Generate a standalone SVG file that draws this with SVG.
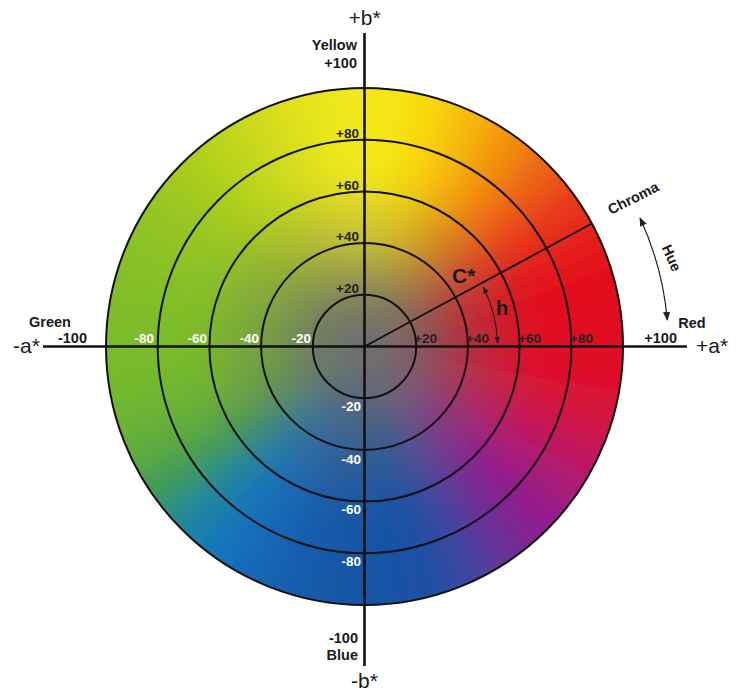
<svg xmlns="http://www.w3.org/2000/svg" width="744" height="700" viewBox="0 0 744 700">
<defs>
<style>
.ring{fill:none;stroke:#111;stroke-width:2}
.axis{stroke:#111;stroke-width:2.6;fill:none}
.lbl{font-family:"Liberation Sans",Arial,sans-serif;font-weight:bold;font-size:13.5px}
.dk{fill:#222}
.wt{fill:#fff}
.name{font-family:"Liberation Sans",Arial,sans-serif;font-weight:bold;font-size:14.5px;fill:#1a1a1a}
.ax{font-family:"Liberation Sans",Arial,sans-serif;font-size:21px;fill:#1a1a1a}
.big{font-family:"Liberation Sans",Arial,sans-serif;font-weight:bold;fill:#1a1a1a}
.thin{fill:none;stroke:#222;stroke-width:1.2}
.wedges path{shape-rendering:crispEdges}
</style>
<clipPath id="disc"><circle cx="364.5" cy="346.5" r="258.5"/></clipPath>
<filter id="soft" x="-20%" y="-20%" width="140%" height="140%"><feGaussianBlur stdDeviation="15"/></filter>
<radialGradient id="gray" cx="364.5" cy="346.5" r="258.5" gradientUnits="userSpaceOnUse">
<stop offset="0" stop-color="#6c6e6e" stop-opacity="1"/>
<stop offset="0.2" stop-color="#6c6e6e" stop-opacity="0.78"/>
<stop offset="0.4" stop-color="#6c6e6e" stop-opacity="0.35"/>
<stop offset="0.6" stop-color="#6c6e6e" stop-opacity="0.08"/>
<stop offset="0.72" stop-color="#6c6e6e" stop-opacity="0"/>
</radialGradient>
<marker id="ah" viewBox="0 0 10 10" refX="9" refY="5" markerWidth="7" markerHeight="7" markerUnits="userSpaceOnUse" orient="auto-start-reverse"><path d="M0 1 L10 5 L0 9 Z" fill="#222"/></marker>
<marker id="ah2" viewBox="0 0 10 10" refX="9" refY="5" markerWidth="9" markerHeight="9" markerUnits="userSpaceOnUse" orient="auto-start-reverse"><path d="M0 1 L10 5 L0 9 Z" fill="#222"/></marker>
</defs>
<rect width="744" height="700" fill="#fff"/>

<g id="wheel" clip-path="url(#disc)">
<g class="wedges" filter="url(#soft)">
<path d="M364.5 346.5L664.5 346.5L659.9 294.4Z" fill="#e20a20"/>
<path d="M364.5 346.5L659.9 294.4L646.4 243.9Z" fill="#e20e1e"/>
<path d="M364.5 346.5L646.4 243.9L624.3 196.5Z" fill="#e41a1c"/>
<path d="M364.5 346.5L624.3 196.5L594.3 153.7Z" fill="#e8381a"/>
<path d="M364.5 346.5L594.3 153.7L557.3 116.7Z" fill="#ec6414"/>
<path d="M364.5 346.5L557.3 116.7L514.5 86.7Z" fill="#f29010"/>
<path d="M364.5 346.5L514.5 86.7L467.1 64.6Z" fill="#f5b80e"/>
<path d="M364.5 346.5L467.1 64.6L416.6 51.1Z" fill="#f8d810"/>
<path d="M364.5 346.5L416.6 51.1L364.5 46.5Z" fill="#f7e614"/>
<path d="M364.5 346.5L364.5 46.5L312.4 51.1Z" fill="#efe81c"/>
<path d="M364.5 346.5L312.4 51.1L261.9 64.6Z" fill="#e2e21e"/>
<path d="M364.5 346.5L261.9 64.6L214.5 86.7Z" fill="#cfdb1c"/>
<path d="M364.5 346.5L214.5 86.7L171.7 116.7Z" fill="#bcd41c"/>
<path d="M364.5 346.5L171.7 116.7L134.7 153.7Z" fill="#a9cc1e"/>
<path d="M364.5 346.5L134.7 153.7L104.7 196.5Z" fill="#98c622"/>
<path d="M364.5 346.5L104.7 196.5L82.6 243.9Z" fill="#8cc226"/>
<path d="M364.5 346.5L82.6 243.9L69.1 294.4Z" fill="#84bf28"/>
<path d="M364.5 346.5L69.1 294.4L64.5 346.5Z" fill="#7dbc2a"/>
<path d="M364.5 346.5L64.5 346.5L69.1 398.6Z" fill="#78ba2c"/>
<path d="M364.5 346.5L69.1 398.6L82.6 449.1Z" fill="#70b532"/>
<path d="M364.5 346.5L82.6 449.1L104.7 496.5Z" fill="#5fab3c"/>
<path d="M364.5 346.5L104.7 496.5L134.7 539.3Z" fill="#3e9a58"/>
<path d="M364.5 346.5L134.7 539.3L171.7 576.3Z" fill="#1e85a0"/>
<path d="M364.5 346.5L171.7 576.3L214.5 606.3Z" fill="#1473bc"/>
<path d="M364.5 346.5L214.5 606.3L261.9 628.4Z" fill="#1266b4"/>
<path d="M364.5 346.5L261.9 628.4L312.4 641.9Z" fill="#125cac"/>
<path d="M364.5 346.5L312.4 641.9L364.5 646.5Z" fill="#1356a6"/>
<path d="M364.5 346.5L364.5 646.5L416.6 641.9Z" fill="#1454a6"/>
<path d="M364.5 346.5L416.6 641.9L467.1 628.4Z" fill="#1d50a4"/>
<path d="M364.5 346.5L467.1 628.4L514.5 606.3Z" fill="#3a46a0"/>
<path d="M364.5 346.5L514.5 606.3L557.3 576.3Z" fill="#6a2e98"/>
<path d="M364.5 346.5L557.3 576.3L594.3 539.3Z" fill="#8e1e90"/>
<path d="M364.5 346.5L594.3 539.3L624.3 496.5Z" fill="#a81a78"/>
<path d="M364.5 346.5L624.3 496.5L646.4 449.1Z" fill="#c41858"/>
<path d="M364.5 346.5L646.4 449.1L659.9 398.6Z" fill="#d6143a"/>
<path d="M364.5 346.5L659.9 398.6L664.5 346.5Z" fill="#e00e26"/>
</g>
<circle cx="364.5" cy="346.5" r="258.5" fill="url(#gray)"/>
</g>

<g id="rings">
<circle class="ring" cx="364.5" cy="346.5" r="51.7"/>
<circle class="ring" cx="364.5" cy="346.5" r="103.4"/>
<circle class="ring" cx="364.5" cy="346.5" r="155.1"/>
<circle class="ring" cx="364.5" cy="346.5" r="206.8"/>
<circle class="ring" cx="364.5" cy="346.5" r="258.5" stroke-width="2.4"/>
</g>

<g id="connectors">
<line class="axis" x1="364.5" y1="33" x2="364.5" y2="666"/>
<line class="axis" x1="43" y1="346.5" x2="687" y2="346.5"/>
<line x1="364.5" y1="346.5" x2="591.9" y2="223.5" stroke="#111" stroke-width="1.8"/>
<path class="thin" d="M497.5 343 A133 133 0 0 0 483.5 287.2" marker-start="url(#ah)" marker-end="url(#ah)"/>
<path class="thin" d="M667.3 320 A304 304 0 0 0 640 218" stroke="#333" marker-start="url(#ah2)" marker-end="url(#ah2)"/>
</g>

<g id="axis-labels">
<text class="ax" x="364.5" y="25" text-anchor="middle">+b*</text>
<text class="ax" x="364.5" y="688" text-anchor="middle">-b*</text>
<text class="ax" x="13" y="353">-a*</text>
<text class="ax" x="696" y="353">+a*</text>
</g>

<g id="pole-labels">
<text class="name" x="357" y="50" text-anchor="end">Yellow</text>
<text class="name" x="357" y="68" text-anchor="end">+100</text>
<text class="name" x="358" y="643" text-anchor="end">-100</text>
<text class="name" x="358" y="660" text-anchor="end">Blue</text>
<text class="name" x="50" y="327" text-anchor="middle">Green</text>
<text class="name" x="87" y="343" text-anchor="end">-100</text>
<text class="name" x="692" y="328" text-anchor="middle">Red</text>
<text class="name" x="677" y="343" text-anchor="end">+100</text>
<text class="name" transform="translate(611 215) rotate(-27)" font-size="15.5">Chroma</text>
<text class="name" transform="translate(667 260) rotate(66)" text-anchor="middle" font-size="15">Hue</text>
</g>

<g id="scale-labels" class="lbl">
<text class="dk" x="359" y="138" text-anchor="end">+80</text>
<text class="dk" x="359" y="190" text-anchor="end">+60</text>
<text class="dk" x="359" y="241" text-anchor="end">+40</text>
<text class="dk" x="359" y="293" text-anchor="end">+20</text>
<text class="wt" x="361" y="411" text-anchor="end">-20</text>
<text class="wt" x="361" y="464" text-anchor="end">-40</text>
<text class="wt" x="361" y="514" text-anchor="end">-60</text>
<text class="wt" x="361" y="566" text-anchor="end">-80</text>
<text class="wt" x="154" y="343" text-anchor="end">-80</text>
<text class="wt" x="207" y="343" text-anchor="end">-60</text>
<text class="wt" x="259" y="343" text-anchor="end">-40</text>
<text class="wt" x="311" y="343" text-anchor="end">-20</text>
<text class="dk" x="414" y="343">+20</text>
<text class="dk" x="466" y="343">+40</text>
<text class="dk" x="518" y="343">+60</text>
<text class="dk" x="570" y="343">+80</text>
</g>

<g id="polar-labels">
<text class="big" x="452" y="283" font-size="21">C*</text>
<text class="big" x="496" y="315" font-size="20">h</text>
</g>
</svg>
